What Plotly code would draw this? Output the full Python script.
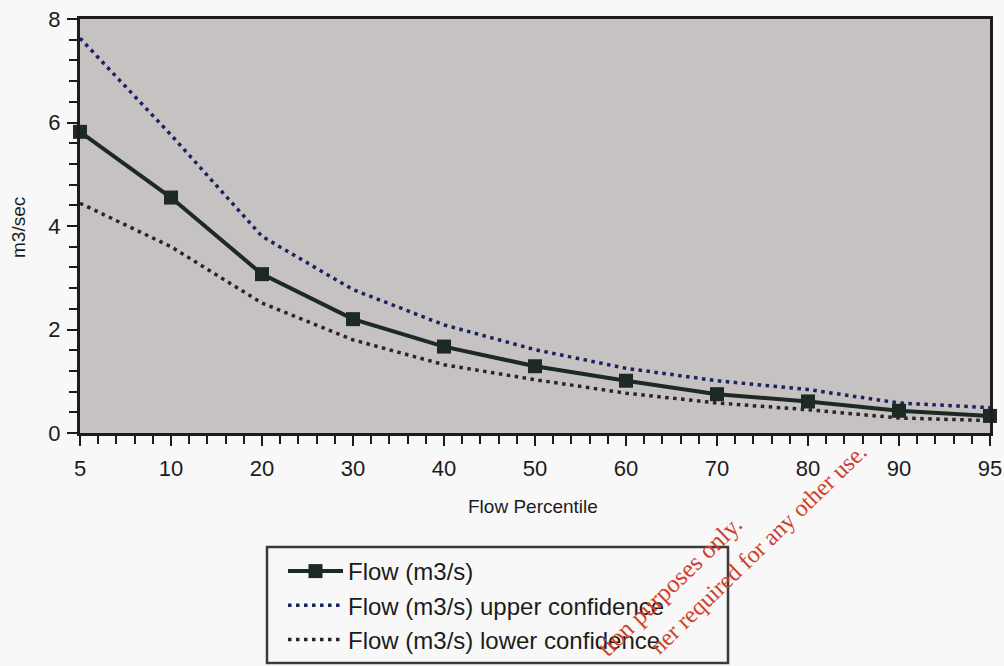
import plotly.graph_objects as go

# Flow duration curve with confidence bounds
percentiles = ["5", "10", "20", "30", "40", "50", "60", "70", "80", "90", "95"]
flow = [5.82, 4.55, 3.07, 2.20, 1.67, 1.29, 1.01, 0.75, 0.61, 0.43, 0.33]
upper_conf = [7.63, 5.76, 3.80, 2.77, 2.09, 1.61, 1.25, 1.01, 0.84, 0.58, 0.49]
lower_conf = [4.44, 3.60, 2.51, 1.80, 1.32, 1.03, 0.77, 0.58, 0.45, 0.29, 0.24]

series_names = [
    "Flow (m3/s)",
    "Flow (m3/s) upper confidence",
    "Flow (m3/s) lower confidence",
]
watermark_lines = ["tion purposes only.", "ner required for any other use."]

pos = list(range(len(percentiles)))

W, H = 1004, 666
ML, MR, MT, MB = 80, 14, 19, 233
PW, PH = W - ML - MR, H - MT - MB


def px_x(x):
    return (x - ML) / PW


def px_y(y):
    return (H - MB - y) / PH


font_main = "Arial, 'Liberation Sans', sans-serif"
serif = "'Liberation Serif', 'Times New Roman', serif"
ink = "#1c1c1c"

fig = go.Figure()

fig.add_trace(go.Scatter(
    x=pos, y=flow, name=series_names[0], mode="lines+markers",
    line=dict(color="#1d2a23", width=4),
    marker=dict(symbol="square", size=14, color="#1d2a23"),
    cliponaxis=False,
))
fig.add_trace(go.Scatter(
    x=pos, y=upper_conf, name=series_names[1], mode="lines",
    line=dict(color="#1b2262", width=3.5, dash="3.5px,4.5px"),
    cliponaxis=False,
))
fig.add_trace(go.Scatter(
    x=pos, y=lower_conf, name=series_names[2], mode="lines",
    line=dict(color="#2a2525", width=3.5, dash="3.5px,4.5px"),
    cliponaxis=False,
))

axis_common = dict(
    showgrid=False, zeroline=False, automargin=False,
    showline=True, linecolor=ink, linewidth=3, mirror=True,
    ticks="outside", ticklen=10, tickwidth=2, tickcolor=ink,
    tickfont=dict(family=font_main, size=22, color=ink),
)

fig.update_xaxes(
    range=[0, len(percentiles) - 1],
    tickmode="array", tickvals=pos, ticktext=percentiles,
    minor=dict(tick0=0, dtick=0.2, ticks="outside", ticklen=8,
               tickwidth=2, tickcolor=ink),
    ticklabelstandoff=4,
    **axis_common,
)
fig.update_yaxes(
    range=[0, 8], tickmode="linear", tick0=0, dtick=2,
    minor=dict(tick0=0, dtick=0.4, ticks="outside", ticklen=8,
               tickwidth=2, tickcolor=ink),
    ticklabelstandoff=2,
    **axis_common,
)

# Legend frame
fig.add_shape(
    type="rect", xref="paper", yref="paper",
    x0=px_x(267), x1=px_x(728), y0=px_y(547), y1=px_y(663),
    line=dict(color="#3a3a3a", width=2.5), fillcolor="rgba(0,0,0,0)",
)


def label(text, x, y, size, angle=0, family=font_main, color=ink):
    return dict(text=text, x=px_x(x), y=px_y(y), xref="paper", yref="paper",
                xanchor="center", yanchor="middle", showarrow=False,
                textangle=angle, font=dict(family=family, size=size,
                                           color=color))


annotations = [
    label("Flow Percentile", 533, 507, 19),
    label("m3/sec", 18, 228, 19, angle=-90),
    label(watermark_lines[0], 669, 586, 25, angle=-44, family=serif,
          color="#d0402c"),
    label(watermark_lines[1], 758, 549, 24, angle=-44, family=serif,
          color="#d0402c"),
]

fig.update_layout(
    width=W, height=H,
    margin=dict(l=ML, r=MR, t=MT, b=MB, autoexpand=False),
    paper_bgcolor="#f8f8f8",
    plot_bgcolor="#c6c2c2",
    font=dict(family=font_main, color=ink),
    showlegend=True,
    legend=dict(
        x=px_x(283), y=px_y(549), xanchor="left", yanchor="top",
        bgcolor="rgba(0,0,0,0)", borderwidth=0, itemwidth=55,
        font=dict(family=font_main, size=24, color=ink),
        tracegroupgap=0,
    ),
    annotations=annotations,
)

fig.write_html("out.html")
